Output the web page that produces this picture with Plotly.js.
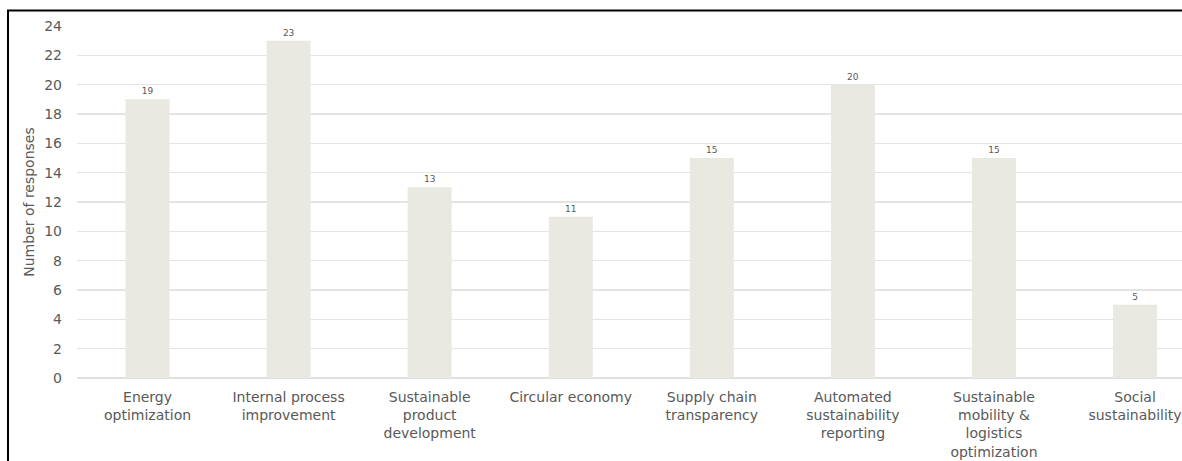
<!DOCTYPE html>
<html>
<head>
<meta charset="utf-8">
<script src="https://cdn.plot.ly/plotly-3.0.1.min.js"></script>
<style>
  html, body { margin: 0; padding: 0; background: #ffffff; }
  #chart { width: 1182px; height: 461px; }
</style>
</head>
<body>
<div id="chart"></div>
<script>
const categories = [
  "Energy<br>optimization",
  "Internal process<br>improvement",
  "Sustainable<br>product<br>development",
  "Circular economy",
  "Supply chain<br>transparency",
  "Automated<br>sustainability<br>reporting",
  "Sustainable<br>mobility &amp;<br>logistics<br>optimization",
  "Social<br>sustainability"
];
const responses = [19, 23, 13, 11, 15, 20, 15, 5];
const yTicks = [0, 2, 4, 6, 8, 10, 12, 14, 16, 18, 20, 22, 24];

const FONT = "DejaVu Sans, Open Sans, sans-serif";
const L = 77, R = 0, T = 26, B = 83, W = 1182, H = 461;
const pw = W - L - R, ph = H - T - B;
const px = v => (v - L) / pw;
const py = v => 1 - (v - T) / ph;

const trace = {
  type: "bar",
  x: categories.map((c, i) => i),
  y: responses,
  width: 0.312,
  marker: { color: "#e9e8e1", line: { width: 0 } },
  text: responses.map(String),
  textposition: "outside",
  cliponaxis: false,
  textfont: { family: FONT, size: 9, color: "#595959" },
  hoverinfo: "skip"
};

const layout = {
  width: W, height: H,
  margin: { l: L, r: R, t: T, b: B, pad: 0 },
  paper_bgcolor: "#ffffff",
  plot_bgcolor: "#ffffff",
  showlegend: false,
  xaxis: {
    range: [-0.5, 7.333],
    tickmode: "array",
    tickvals: categories.map((c, i) => i),
    ticktext: categories,
    tickangle: 0,
    showgrid: false,
    zeroline: false,
    showline: false,
    ticks: "",
    ticklabeloverflow: "allow",
    ticklabelstandoff: 9,
    tickfont: { family: FONT, size: 14, color: "#595959" },
    fixedrange: true
  },
  yaxis: {
    range: [0, 24],
    tickmode: "array",
    tickvals: yTicks,
    ticktext: yTicks.map(String),
    showgrid: true,
    gridcolor: "#e4e4e4",
    gridwidth: 1.5,
    zeroline: true,
    zerolinecolor: "#e0e0e0",
    zerolinewidth: 1.5,
    showline: false,
    ticks: "",
    ticklabelstandoff: 14,
    tickfont: { family: FONT, size: 14, color: "#595959" },
    title: { text: "Number of responses", font: { family: FONT, size: 14, color: "#595959" }, standoff: 6 },
    fixedrange: true
  },
  shapes: [
    { type: "line", xref: "paper", yref: "paper", x0: px(7), x1: px(1190), y0: py(10.5), y1: py(10.5), line: { color: "#000000", width: 2 } },
    { type: "line", xref: "paper", yref: "paper", x0: px(8), x1: px(8), y0: py(10), y1: py(470), line: { color: "#000000", width: 2 } }
  ],
  font: { family: FONT, color: "#595959" }
};

Plotly.newPlot("chart", [trace], layout, { displayModeBar: false, staticPlot: true });
</script>
</body>
</html>
